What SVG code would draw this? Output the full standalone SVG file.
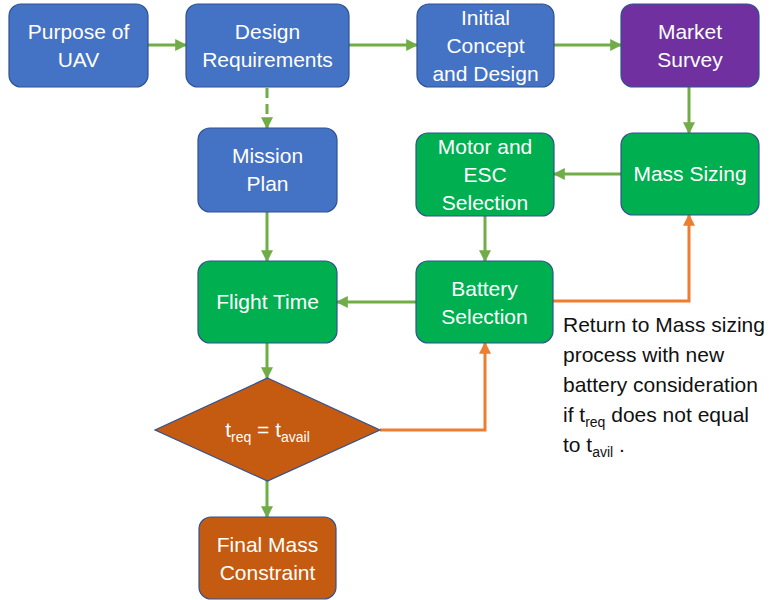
<svg xmlns="http://www.w3.org/2000/svg" width="770" height="600" viewBox="0 0 770 600">
<style>
.n{stroke:#2F528F;stroke-width:1.2}
.b{fill:#4472C4}.p{fill:#7030A0}.g{fill:#00B050}.o{fill:#C55A11}
.t{font-family:"Liberation Sans",Arial,sans-serif;font-size:21px;fill:#fff;text-anchor:middle}
.c{fill:none;stroke:#70AD47;stroke-width:3}
.r{fill:none;stroke:#ED7D31;stroke-width:3}
.a{font-family:"Liberation Sans",Arial,sans-serif;font-size:21px;fill:#111}
</style>
<defs>
<marker id="mg" viewBox="0 0 10 10" refX="9" refY="5" markerWidth="4" markerHeight="4" orient="auto" markerUnits="strokeWidth"><path d="M0,0L10,5L0,10z" fill="#70AD47"/></marker>
<marker id="mo" viewBox="0 0 10 10" refX="9" refY="5" markerWidth="4" markerHeight="4" orient="auto" markerUnits="strokeWidth"><path d="M0,0L10,5L0,10z" fill="#ED7D31"/></marker>
</defs>
<g id="connectors">
<line class="c" x1="148" y1="45" x2="186" y2="45" marker-end="url(#mg)"/>
<line class="c" x1="349" y1="45" x2="417" y2="45" marker-end="url(#mg)"/>
<line class="c" x1="554" y1="45" x2="621" y2="45" marker-end="url(#mg)"/>
<line class="c" x1="689" y1="87" x2="689" y2="133" marker-end="url(#mg)"/>
<line class="c" x1="621" y1="174" x2="554" y2="174" marker-end="url(#mg)"/>
<line class="c" x1="485" y1="216" x2="485" y2="261" marker-end="url(#mg)"/>
<line class="c" x1="416" y1="302" x2="337" y2="302" marker-end="url(#mg)"/>
<line class="c" x1="267" y1="88" x2="267" y2="128" stroke-dasharray="10,6" marker-end="url(#mg)"/>
<line class="c" x1="267" y1="212" x2="267" y2="261" marker-end="url(#mg)"/>
<line class="c" x1="267" y1="343" x2="267" y2="378" marker-end="url(#mg)"/>
<line class="c" x1="267" y1="481" x2="267" y2="517" marker-end="url(#mg)"/>
<polyline class="r" points="553,301 689,301 689,215" marker-end="url(#mo)"/>
<polyline class="r" points="380,430 485,430 485,343" marker-end="url(#mo)"/>
</g>
<g id="purpose"><rect class="n b" x="9" y="4" width="139" height="83" rx="12"/><text class="t" x="78.5" y="39">Purpose of</text><text class="t" x="78.5" y="67">UAV</text></g>
<g id="design"><rect class="n b" x="186" y="4" width="163" height="83" rx="12"/><text class="t" x="267.5" y="39">Design</text><text class="t" x="267.5" y="67">Requirements</text></g>
<g id="initial"><rect class="n b" x="417" y="4" width="137" height="83" rx="12"/><text class="t" x="485.5" y="25">Initial</text><text class="t" x="485.5" y="53">Concept</text><text class="t" x="485.5" y="81">and Design</text></g>
<g id="market"><rect class="n p" x="621" y="4" width="138" height="83" rx="12"/><text class="t" x="690" y="39">Market</text><text class="t" x="690" y="67">Survey</text></g>
<g id="mission"><rect class="n b" x="198" y="128" width="139" height="84" rx="12"/><text class="t" x="267.5" y="163">Mission</text><text class="t" x="267.5" y="191">Plan</text></g>
<g id="motor"><rect class="n g" x="416" y="133" width="138" height="83" rx="12"/><text class="t" x="485" y="154">Motor and</text><text class="t" x="485" y="182">ESC</text><text class="t" x="485" y="210">Selection</text></g>
<g id="mass"><rect class="n g" x="621" y="133" width="138" height="82" rx="12"/><text class="t" x="690" y="181">Mass Sizing</text></g>
<g id="flight"><rect class="n g" x="198" y="261" width="139" height="82" rx="12"/><text class="t" x="267.5" y="309">Flight Time</text></g>
<g id="battery"><rect class="n g" x="416" y="261" width="137" height="82" rx="12"/><text class="t" x="484.5" y="296">Battery</text><text class="t" x="484.5" y="324">Selection</text></g>
<g id="decision"><polygon class="n o" points="267.5,378 380,430 267.5,481 155,430"/><text class="t" x="267.5" y="437">t<tspan font-size="14" dy="5">req</tspan><tspan dy="-5"> = t</tspan><tspan font-size="14" dy="5">avail</tspan></text></g>
<g id="final"><rect class="n o" x="199" y="517" width="137" height="82" rx="12"/><text class="t" x="267.5" y="552">Final Mass</text><text class="t" x="267.5" y="580">Constraint</text></g>
<g id="note">
<text class="a" x="563" y="332">Return to Mass sizing</text>
<text class="a" x="563" y="362">process with new</text>
<text class="a" x="563" y="392">battery consideration</text>
<text class="a" x="563" y="422">if t<tspan font-size="14" dy="5">req</tspan><tspan dy="-5"> does not equal</tspan></text>
<text class="a" x="563" y="452">to t<tspan font-size="14" dy="5">avil</tspan><tspan dy="-5"> .</tspan></text>
</g>
</svg>
